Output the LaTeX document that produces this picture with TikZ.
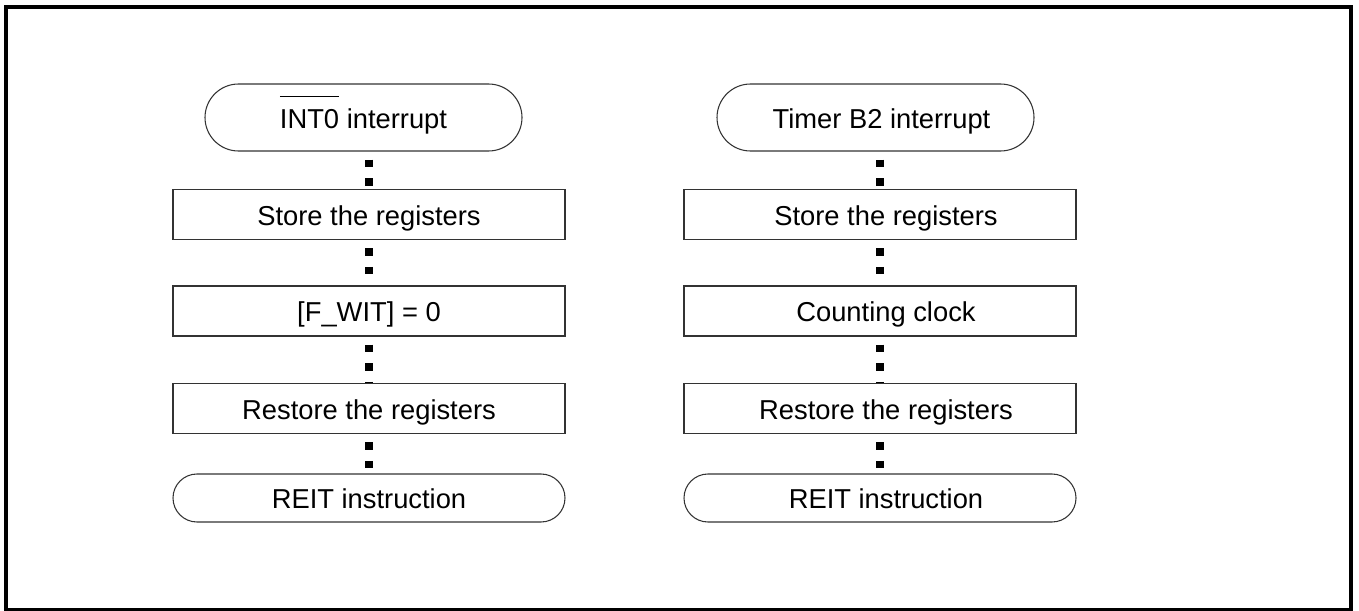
\documentclass[tikz,border=0pt]{standalone}
\usepackage{fontspec}
\setmainfont{Liberation Sans}
\usetikzlibrary{shapes.misc}

% bar over a signal name
\newcommand{\barred}[1]{\rlap{\setbox0=\hbox{#1}\smash{\rule[1.15em]{\wd0}{0.75pt}}}#1}

\tikzset{every picture/.style={line width=0.75pt}}
\tikzset{
  procbox/.style={draw={rgb, 255:red, 51; green, 51; blue, 51}, line width=1.1pt, fill=white,
    minimum width=294pt, minimum height=37.5pt, inner sep=0pt, text height=1.7em, text depth=0.1em,
    font=\fontsize{20.5}{24}\selectfont},
  termbox/.style={procbox, rounded rectangle, line width=0.8pt},
  pushright/.style={execute at begin node={\hspace*{9pt}}},
  dotlink/.style={line width=5.6pt, dash pattern=on 5.6pt off 8.3pt, dash phase=7.9pt}
}

\begin{document}
\begin{tikzpicture}[x=0.75pt,y=0.75pt,yscale=-1,xscale=1]
	\useasboundingbox (0,0) rectangle (1359,610);

	%Outer frame
	\draw [line width=3pt] (5.5,7) rectangle (1351,609.5);

	% Left flow: INT0 interrupt
	\node [termbox, minimum width=237.75pt, minimum height=50.25pt] (intA) at (363.5,117.5) {\barred{INT0} interrupt};
	\node [procbox] (storeA) at (369,214.5) {Store the registers};
	\node [procbox] (flagA) at (369,311) {[F\_WIT] = 0};
	\node [procbox] (restA) at (369,408.5) {Restore the registers};
	\node [termbox, minimum height=36pt] (reitA) at (369,498) {REIT instruction};

	% Right flow: Timer B2 interrupt
	\node [termbox, pushright, minimum width=237.75pt, minimum height=50.25pt] (intB) at (875.5,117.5) {Timer B2 interrupt};
	\node [procbox, pushright] (storeB) at (880,214.5) {Store the registers};
	\node [procbox, pushright] (countB) at (880,311) {Counting clock};
	\node [procbox, pushright] (restB) at (880,408.5) {Restore the registers};
	\node [termbox, pushright, minimum height=36pt] (reitB) at (880,498) {REIT instruction};

	% Dotted connectors
	\draw [dotlink] (intA.south -| storeA.north) -- (storeA.north);
	\draw [dotlink] (storeA.south) -- (flagA.north);
	\draw [dotlink] (flagA.south) -- (restA.north);
	\draw [dotlink] (restA.south) -- (reitA.north);
	\draw [dotlink] (intB.south -| storeB.north) -- (storeB.north);
	\draw [dotlink] (storeB.south) -- (countB.north);
	\draw [dotlink] (countB.south) -- (restB.north);
	\draw [dotlink] (restB.south) -- (reitB.north);

\end{tikzpicture}
\end{document}
